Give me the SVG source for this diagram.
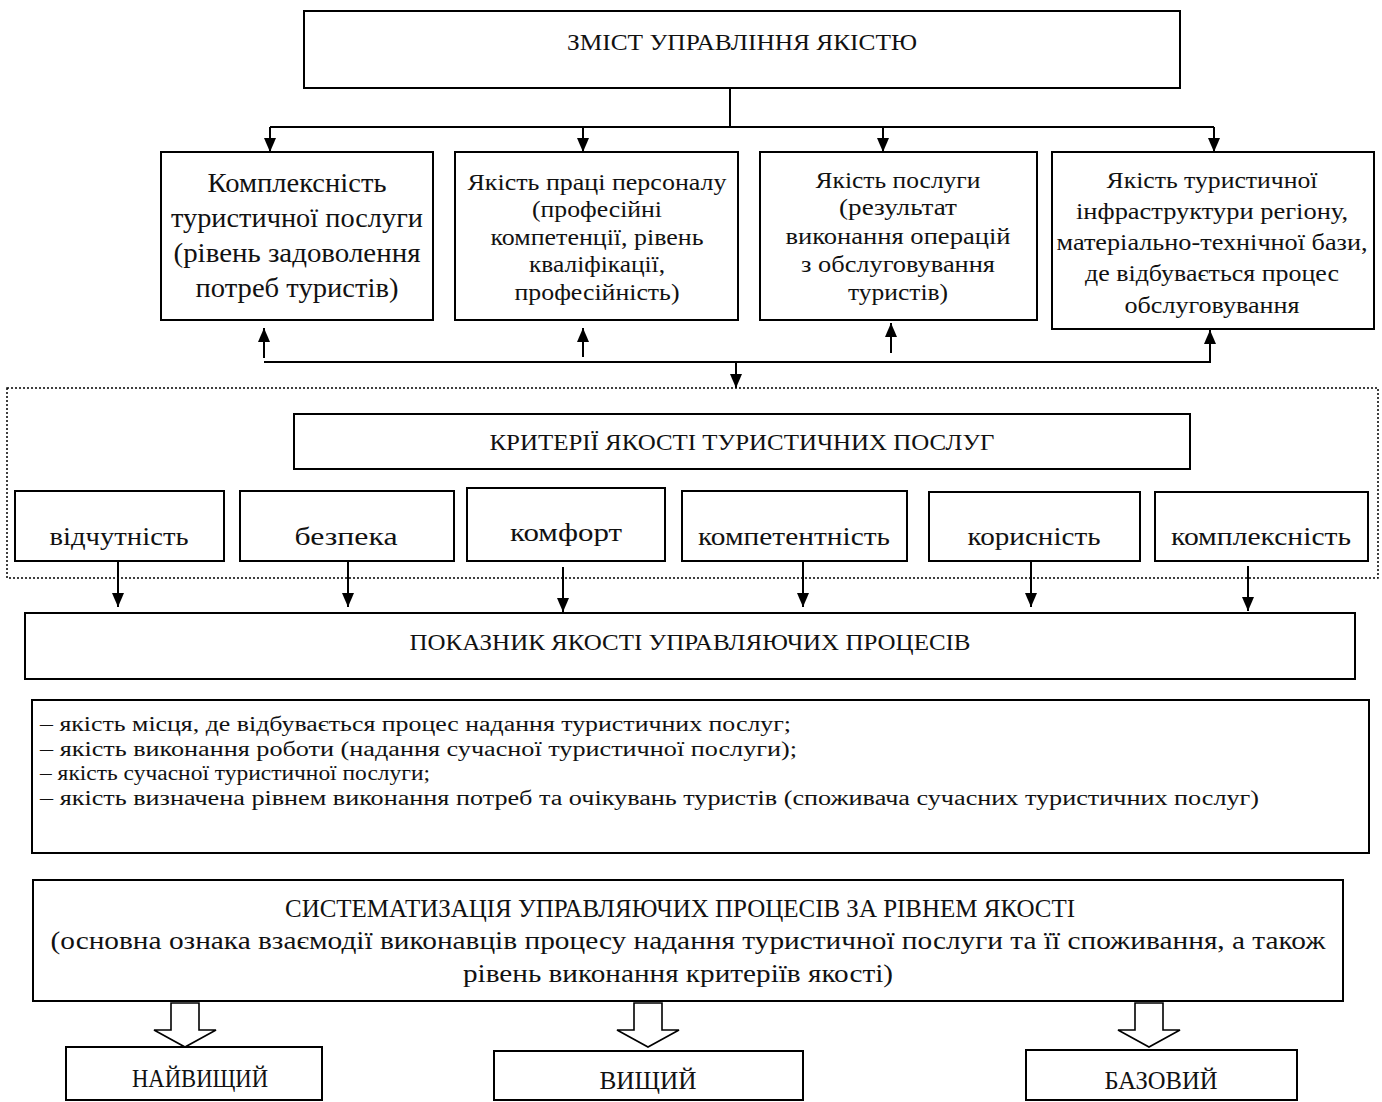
<svg xmlns="http://www.w3.org/2000/svg" width="1382" height="1102" viewBox="0 0 1382 1102">
<defs>
<style>
.box{fill:#fff;stroke:#000;stroke-width:2}
.dot{fill:none;stroke:#000;stroke-width:1.5;stroke-dasharray:2 2}
.ln{fill:none;stroke:#000;stroke-width:2}
.ar{fill:none;stroke:#000;stroke-width:2;marker-end:url(#ah)}
.blk{fill:#fff;stroke:#000;stroke-width:1.6;stroke-linejoin:miter}
text{font-family:"Liberation Serif","DejaVu Serif",serif;fill:#111}
.c{text-anchor:middle}
.f20{font-size:20px}.f24{font-size:24px}.f25{font-size:25px}.f26{font-size:26px}.f28{font-size:28px}
</style>
<marker id="ah" viewBox="0 0 14 12" refX="14" refY="6" markerWidth="14" markerHeight="12" markerUnits="userSpaceOnUse" orient="auto">
<path d="M0,0 L14,6 L0,12 z" fill="#000"/>
</marker>
</defs>
<rect width="1382" height="1102" fill="#fff"/>

<g id="connectors">
<polyline class="ln" points="730,88 730,127"/>
<polyline class="ln" points="270,127 1214,127"/>
<line class="ar" x1="270" y1="127" x2="270" y2="152"/>
<line class="ar" x1="583" y1="127" x2="583" y2="152"/>
<line class="ar" x1="883" y1="127" x2="883" y2="152"/>
<line class="ar" x1="1214" y1="127" x2="1214" y2="152"/>
<line class="ln" x1="264" y1="362" x2="1210" y2="362"/>
<line class="ar" x1="264" y1="358" x2="264" y2="328"/>
<line class="ar" x1="583" y1="357" x2="583" y2="328"/>
<line class="ar" x1="891" y1="353" x2="891" y2="323"/>
<line class="ar" x1="1210" y1="363" x2="1210" y2="330"/>
<line class="ar" x1="736" y1="362" x2="736" y2="388"/>
<line class="ar" x1="118" y1="561" x2="118" y2="607"/>
<line class="ar" x1="348" y1="561" x2="348" y2="607"/>
<line class="ar" x1="563" y1="567" x2="563" y2="612"/>
<line class="ar" x1="803" y1="561" x2="803" y2="607"/>
<line class="ar" x1="1031" y1="561" x2="1031" y2="607"/>
<line class="ar" x1="1248" y1="566" x2="1248" y2="611"/>
<polygon class="blk" points="171,1003 199,1003 199,1030 216,1030 185,1047 154,1030 171,1030"/>
<polygon class="blk" points="634,1003 662,1003 662,1030 679,1030 648,1047 617,1030 634,1030"/>
<polygon class="blk" points="1135,1003 1163,1003 1163,1030 1180,1030 1149,1047 1118,1030 1135,1030"/>
</g>

<g id="n-zmist">
<rect class="box" x="304" y="11" width="876" height="77"/>
<text class="c f24" x="742" y="50" textLength="350" lengthAdjust="spacingAndGlyphs">ЗМІСТ УПРАВЛІННЯ ЯКІСТЮ</text>
</g>

<g id="n-kompleksnist">
<rect class="box" x="161" y="152" width="272" height="168"/>
<text class="c f28" x="297" y="192" textLength="179" lengthAdjust="spacingAndGlyphs">Комплексність</text>
<text class="c f28" x="297" y="227" textLength="252" lengthAdjust="spacingAndGlyphs">туристичної послуги</text>
<text class="c f28" x="297" y="262" textLength="247" lengthAdjust="spacingAndGlyphs">(рівень задоволення</text>
<text class="c f28" x="297" y="297" textLength="203" lengthAdjust="spacingAndGlyphs">потреб туристів)</text>
</g>

<g id="n-pratsia">
<rect class="box" x="455" y="152" width="283" height="168"/>
<text class="c f24" x="597" y="190" textLength="259" lengthAdjust="spacingAndGlyphs">Якість праці персоналу</text>
<text class="c f24" x="597" y="217" textLength="130" lengthAdjust="spacingAndGlyphs">(професійні</text>
<text class="c f24" x="597" y="245" textLength="213" lengthAdjust="spacingAndGlyphs">компетенції, рівень</text>
<text class="c f24" x="597" y="272" textLength="136" lengthAdjust="spacingAndGlyphs">кваліфікації,</text>
<text class="c f24" x="597" y="300" textLength="165" lengthAdjust="spacingAndGlyphs">професійність)</text>
</g>

<g id="n-posluga">
<rect class="box" x="760" y="152" width="277" height="168"/>
<text class="c f24" x="898" y="188" textLength="165" lengthAdjust="spacingAndGlyphs">Якість послуги</text>
<text class="c f24" x="898" y="215" textLength="118" lengthAdjust="spacingAndGlyphs">(результат</text>
<text class="c f24" x="898" y="244" textLength="225" lengthAdjust="spacingAndGlyphs">виконання операцій</text>
<text class="c f24" x="898" y="272" textLength="194" lengthAdjust="spacingAndGlyphs">з обслуговування</text>
<text class="c f24" x="898" y="300" textLength="100" lengthAdjust="spacingAndGlyphs">туристів)</text>
</g>

<g id="n-infra">
<rect class="box" x="1052" y="152" width="322" height="177"/>
<text class="c f24" x="1212" y="188" textLength="211" lengthAdjust="spacingAndGlyphs">Якість туристичної</text>
<text class="c f24" x="1212" y="219" textLength="272" lengthAdjust="spacingAndGlyphs">інфраструктури регіону,</text>
<text class="c f24" x="1212" y="250" textLength="311" lengthAdjust="spacingAndGlyphs">матеріально-технічної бази,</text>
<text class="c f24" x="1212" y="281" textLength="254" lengthAdjust="spacingAndGlyphs">де відбувається процес</text>
<text class="c f24" x="1212" y="313" textLength="175" lengthAdjust="spacingAndGlyphs">обслуговування</text>
</g>

<g id="n-kryterii-group">
<rect class="dot" x="7" y="388" width="1371" height="190"/>
</g>

<g id="n-kryterii">
<rect class="box" x="294" y="414" width="896" height="55"/>
<text class="c f24" x="742" y="450" textLength="505" lengthAdjust="spacingAndGlyphs">КРИТЕРІЇ ЯКОСТІ ТУРИСТИЧНИХ ПОСЛУГ</text>
</g>

<g id="n-vidchutnist">
<rect class="box" x="15" y="491" width="209" height="70"/>
<text class="c f26" x="119" y="545" textLength="139" lengthAdjust="spacingAndGlyphs">відчутність</text>
</g>
<g id="n-bezpeka">
<rect class="box" x="240" y="491" width="214" height="70"/>
<text class="c f26" x="346" y="545" textLength="103" lengthAdjust="spacingAndGlyphs">безпека</text>
</g>
<g id="n-komfort">
<rect class="box" x="467" y="488" width="198" height="73"/>
<text class="c f26" x="566" y="541" textLength="112" lengthAdjust="spacingAndGlyphs">комфорт</text>
</g>
<g id="n-kompetentnist">
<rect class="box" x="682" y="491" width="225" height="70"/>
<text class="c f26" x="794" y="545" textLength="192" lengthAdjust="spacingAndGlyphs">компетентність</text>
</g>
<g id="n-korysnist">
<rect class="box" x="929" y="492" width="211" height="69"/>
<text class="c f26" x="1034" y="545" textLength="133" lengthAdjust="spacingAndGlyphs">корисність</text>
</g>
<g id="n-kompleksnist2">
<rect class="box" x="1155" y="492" width="213" height="69"/>
<text class="c f26" x="1261" y="545" textLength="180" lengthAdjust="spacingAndGlyphs">комплексність</text>
</g>

<g id="n-pokaznyk">
<rect class="box" x="25" y="613" width="1330" height="66"/>
<text class="c f24" x="690" y="650" textLength="561" lengthAdjust="spacingAndGlyphs">ПОКАЗНИК ЯКОСТІ УПРАВЛЯЮЧИХ ПРОЦЕСІВ</text>
</g>

<g id="n-list">
<rect class="box" x="32" y="700" width="1337" height="153"/>
<text class="f20" x="40" y="731" textLength="751" lengthAdjust="spacingAndGlyphs">– якість місця, де відбувається процес надання туристичних послуг;</text>
<text class="f20" x="40" y="756" textLength="757" lengthAdjust="spacingAndGlyphs">– якість виконання роботи (надання сучасної туристичної послуги);</text>
<text class="f20" x="40" y="780" textLength="390" lengthAdjust="spacingAndGlyphs">– якість сучасної туристичної послуги;</text>
<text class="f20" x="40" y="805" textLength="1219" lengthAdjust="spacingAndGlyphs">– якість визначена рівнем  виконання потреб та очікувань туристів (споживача сучасних туристичних послуг)</text>
</g>

<g id="n-systematyzatsiia">
<rect class="box" x="33" y="880" width="1310" height="121"/>
<text class="c f25" x="680" y="917" textLength="790" lengthAdjust="spacingAndGlyphs">СИСТЕМАТИЗАЦІЯ УПРАВЛЯЮЧИХ ПРОЦЕСІВ ЗА РІВНЕМ ЯКОСТІ</text>
<text class="c f25" x="688" y="949" textLength="1275" lengthAdjust="spacingAndGlyphs">(основна ознака взаємодії виконавців  процесу надання туристичної послуги та її споживання, а також</text>
<text class="c f25" x="678" y="982" textLength="430" lengthAdjust="spacingAndGlyphs">рівень виконання критеріїв якості)</text>
</g>

<g id="n-naivyshchyi">
<rect class="box" x="66" y="1047" width="256" height="53"/>
<text class="c f25" x="200" y="1087" textLength="136" lengthAdjust="spacingAndGlyphs">НАЙВИЩИЙ</text>
</g>
<g id="n-vyshchyi">
<rect class="box" x="494" y="1051" width="309" height="49"/>
<text class="c f25" x="648" y="1089" textLength="97" lengthAdjust="spacingAndGlyphs">ВИЩИЙ</text>
</g>
<g id="n-bazovyi">
<rect class="box" x="1026" y="1050" width="271" height="50"/>
<text class="c f25" x="1161" y="1089" textLength="113" lengthAdjust="spacingAndGlyphs">БАЗОВИЙ</text>
</g>
</svg>
